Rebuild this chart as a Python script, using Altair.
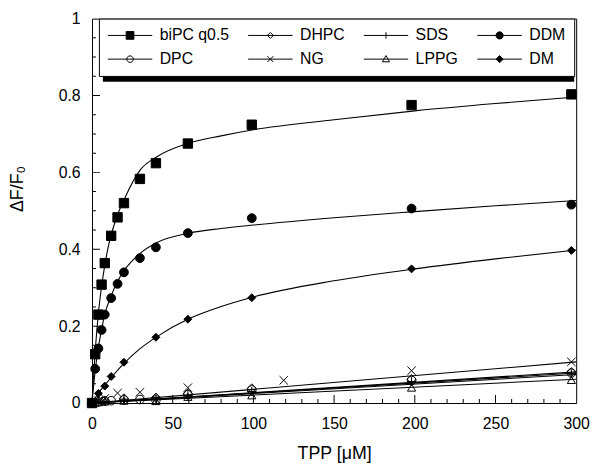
import altair as alt
import pandas as pd

names = ["biPC q0.5", "DHPC", "SDS", "DDM", "DPC", "NG", "LPPG", "DM"]

bipc_x = [0, 1.98, 3.96, 5.94, 7.92, 11.88, 15.84, 19.8, 29.7, 39.6, 59.4, 99, 198, 297]
bipc_y = [0, 0.127, 0.23, 0.308, 0.364, 0.435, 0.483, 0.52, 0.583, 0.624, 0.675, 0.724, 0.775, 0.803]
ddm_x = [0, 1.98, 3.96, 5.94, 7.92, 11.88, 15.84, 19.8, 29.7, 39.6, 59.4, 99, 198, 297]
ddm_y = [0, 0.089, 0.142, 0.19, 0.23, 0.273, 0.31, 0.34, 0.377, 0.405, 0.442, 0.481, 0.506, 0.516]
dm_x = [0, 3.96, 7.92, 11.88, 19.8, 39.6, 59.4, 99, 198, 297]
dm_y = [0, 0.025, 0.044, 0.069, 0.106, 0.171, 0.218, 0.274, 0.349, 0.397]
ng_x = [0, 3.96, 7.92, 15.84, 29.7, 59.4, 118.8, 198, 297]
ng_y = [0, 0.006, 0.012, 0.026, 0.028, 0.04, 0.059, 0.084, 0.107]
dpc_x = [0, 3.96, 7.92, 11.88, 19.8, 29.7, 39.6, 59.4, 99, 198, 297]
dpc_y = [0, 0.003, 0.005, 0.006, 0.008, 0.009, 0.008, 0.022, 0.034, 0.059, 0.078]
dhpc_x = [0, 3.96, 7.92, 19.8, 39.6, 59.4, 99, 198, 297]
dhpc_y = [0, 0.004, 0.006, 0.012, 0.014, 0.024, 0.038, 0.062, 0.08]
sds_x = [0, 3.96, 7.92, 19.8, 39.6, 59.4, 99, 198, 297]
sds_y = [0, 0.002, 0.004, 0.01, 0.012, 0.02, 0.03, 0.056, 0.076]
lppg_x = [0, 3.96, 7.92, 19.8, 39.6, 59.4, 99, 198, 297]
lppg_y = [0, 0.002, 0.004, 0.006, 0.005, 0.016, 0.02, 0.04, 0.06]

# ---- fitted curves ----
bipc_fit_x = [0, 1, 2, 4, 6, 8, 10, 15, 20, 30, 40, 60, 80, 100, 150, 200, 250, 300]
bipc_fit_y = [0, 0.073, 0.135, 0.235, 0.305, 0.36, 0.405, 0.48, 0.53, 0.607, 0.64, 0.676, 0.695, 0.711, 0.737, 0.76, 0.779, 0.796]
ddm_fit_x = [0, 1, 2, 4, 6, 8, 12, 16, 20, 30, 40, 60, 80, 100, 150, 200, 250, 300]
ddm_fit_y = [0, 0.045, 0.085, 0.145, 0.193, 0.232, 0.28, 0.318, 0.345, 0.39, 0.417, 0.442, 0.454, 0.463, 0.482, 0.498, 0.513, 0.527]
dm_fit_x = [0, 4, 8, 12, 20, 30, 40, 60, 80, 100, 150, 200, 250, 300]
dm_fit_y = [0, 0.026, 0.047, 0.067, 0.104, 0.142, 0.172, 0.219, 0.251, 0.276, 0.318, 0.349, 0.375, 0.398]
lin_fit_x = [0, 300]
ng_fit_y = [0, 0.107]
dhpc_fit_y = [0, 0.081]
dpc_fit_y = [0, 0.078]
sds_fit_y = [0, 0.074]
lppg_fit_y = [0, 0.062]

# axis tick positions
x_labels = [0, 50, 100, 150, 200, 250, 300]
y_labels = [0, 0.2, 0.4, 0.6, 0.8, 1]
x_major = [50, 100, 150, 200, 250]
x_minor = [10, 20, 30, 40, 60, 70, 80, 90, 110, 120, 130, 140, 160, 170, 180, 190,
           210, 220, 230, 240, 260, 270, 280, 290]
y_major = [0.2, 0.4, 0.6, 0.8]
y_minor = [0.05, 0.1, 0.15, 0.25, 0.3, 0.35, 0.45, 0.5, 0.55, 0.65, 0.7, 0.75, 0.85, 0.9, 0.95]

# styles
point_shapes = ["square", "diamond", "M0,-1V1M-1,0H1", "circle", "circle",
                "M-1,-1L1,1M-1,1L1,-1", "triangle-up", "diamond"]
point_fills = ["black", "transparent", "transparent", "black", "transparent",
               "transparent", "transparent", "black"]
point_sizes = [90, 64, 81, 81, 64, 81, 70, 81]

L = "M-3.75,0H3.75"
legend_paths = [
    L + "M-0.65,-0.65H0.65V0.65H-0.65Z",
    L + "M-0.5,0L0,-0.5L0.5,0L0,0.5Z",
    L + "M0,-0.55V0.55",
    L + "M0.6,0A0.6,0.6,0,1,1,-0.6,0A0.6,0.6,0,1,1,0.6,0Z",
    L + "M0.55,0A0.55,0.55,0,1,1,-0.55,0A0.55,0.55,0,1,1,0.55,0Z",
    L + "M-0.5,-0.5L0.5,0.5M-0.5,0.5L0.5,-0.5",
    L + "M0,-0.6L0.6,0.45L-0.6,0.45Z",
    L + "M-0.6,0L0,-0.6L0.6,0L0,0.6Z",
]
legend_fills = ["black", "white", "white", "black", "white", "white", "white", "black"]
legend_strokes = ["black"] * 8

pts = pd.concat([
    pd.DataFrame({"series": n, "x": xs, "y": ys}) for n, xs, ys in [
        ("biPC q0.5", bipc_x, bipc_y), ("DDM", ddm_x, ddm_y), ("DM", dm_x, dm_y),
        ("NG", ng_x, ng_y), ("DPC", dpc_x, dpc_y), ("DHPC", dhpc_x, dhpc_y),
        ("SDS", sds_x, sds_y), ("LPPG", lppg_x, lppg_y)]
], ignore_index=True)

fits = pd.concat([
    pd.DataFrame({"series": n, "x": xs, "y": ys}) for n, xs, ys in [
        ("biPC q0.5", bipc_fit_x, bipc_fit_y), ("DDM", ddm_fit_x, ddm_fit_y),
        ("DM", dm_fit_x, dm_fit_y), ("NG", lin_fit_x, ng_fit_y),
        ("DHPC", lin_fit_x, dhpc_fit_y), ("DPC", lin_fit_x, dpc_fit_y),
        ("SDS", lin_fit_x, sds_fit_y), ("LPPG", lin_fit_x, lppg_fit_y)]
], ignore_index=True)

xscale = alt.Scale(domain=[0, 300], nice=False, zero=False)
yscale = alt.Scale(domain=[0, 1], nice=False, zero=False)
xaxis = alt.Axis(values=x_labels, title="TPP [μM]", titleFontSize=18, labelPadding=13,
                 labelFlush=False, titleY=42)
yaxis = alt.Axis(values=y_labels, format="~g", title="ΔF/F₀", titleFontSize=18,
                 labelPadding=12, titleX=-66, titleY=172)

X = alt.X("x:Q", scale=xscale, axis=xaxis)
Y = alt.Y("y:Q", scale=yscale, axis=yaxis)

lines = alt.Chart(fits).mark_line(color="black", strokeWidth=1.1, interpolate="monotone").encode(
    x=X, y=Y, detail="series:N")

points = alt.Chart(pts).mark_point(filled=True, stroke="black", strokeWidth=1, opacity=1).encode(
    x=X, y=Y,
    shape=alt.Shape("series:N", scale=alt.Scale(domain=names, range=point_shapes), legend=None),
    fill=alt.Fill("series:N", scale=alt.Scale(domain=names, range=point_fills), legend=None),
    size=alt.Size("series:N", scale=alt.Scale(domain=names, range=point_sizes), legend=None),
)

xt_major = alt.Chart(pd.DataFrame({"x": x_major})).mark_tick(
    orient="vertical", size=16, thickness=1, color="black", clip=True, opacity=1).encode(
    x=alt.X("x:Q", scale=xscale, axis=xaxis), y=alt.datum(0))
xt_minor = alt.Chart(pd.DataFrame({"x": x_minor})).mark_tick(
    orient="vertical", size=8, thickness=1, color="black", clip=True, opacity=1).encode(
    x=alt.X("x:Q", scale=xscale, axis=xaxis), y=alt.datum(0))
yt_major = alt.Chart(pd.DataFrame({"y": y_major})).mark_tick(
    orient="horizontal", size=16, thickness=1, color="black", clip=True, opacity=1).encode(
    y=alt.Y("y:Q", scale=yscale, axis=yaxis), x=alt.datum(0))
yt_minor = alt.Chart(pd.DataFrame({"y": y_minor})).mark_tick(
    orient="horizontal", size=8, thickness=1, color="black", clip=True, opacity=1).encode(
    y=alt.Y("y:Q", scale=yscale, axis=yaxis), x=alt.datum(0))

shadow = alt.Chart(pd.DataFrame({"a": [0]})).mark_rect(color="black").encode(
    x=alt.value(11), x2=alt.value(488), y=alt.value(4), y2=alt.value(64))

leg = alt.Legend(title=None, orient="none", legendX=7, legendY=0, columns=4,
                 direction="horizontal", symbolSize=144, symbolStrokeWidth=1,
                 symbolStrokeColor="black", labelFontSize=16, labelColor="black",
                 labelFont="Liberation Sans", symbolOffset=14.5, labelOffset=22,
                 rowPadding=8, columnPadding=17, padding=9, strokeColor="black",
                 fillColor="white", labelLimit=0)

legend_layer = alt.Chart(pd.DataFrame({"entry": names})).mark_point(
    filled=True, strokeWidth=1, opacity=1).encode(
    x=alt.datum(0),
    y=alt.datum(0),
    shape=alt.Shape("entry:N", scale=alt.Scale(domain=names, range=legend_paths), legend=leg),
    fill=alt.Fill("entry:N", scale=alt.Scale(domain=names, range=legend_fills), legend=leg),
    stroke=alt.Stroke("entry:N", scale=alt.Scale(domain=names, range=legend_strokes), legend=leg),
).transform_filter("false")

chart = alt.layer(lines, points, xt_minor, xt_major, yt_minor, yt_major, shadow, legend_layer).resolve_scale(
    shape="independent", fill="independent", stroke="independent"
).properties(
    width=490, height=389,
    autosize=alt.AutoSizeParams(type="none"),
    padding={"left": 85, "top": 8, "right": 16, "bottom": 62},
).configure(font="Liberation Sans").configure_view(
    stroke="black", strokeWidth=1
).configure_axis(
    labelColor="black", titleColor="black", labelFontSize=16, titleFontWeight="normal",
    grid=False, ticks=False, domain=False, labelFont="Liberation Sans", titleFont="Liberation Sans"
)

chart.save("out.html", embed_options={"renderer": "svg", "actions": False})
